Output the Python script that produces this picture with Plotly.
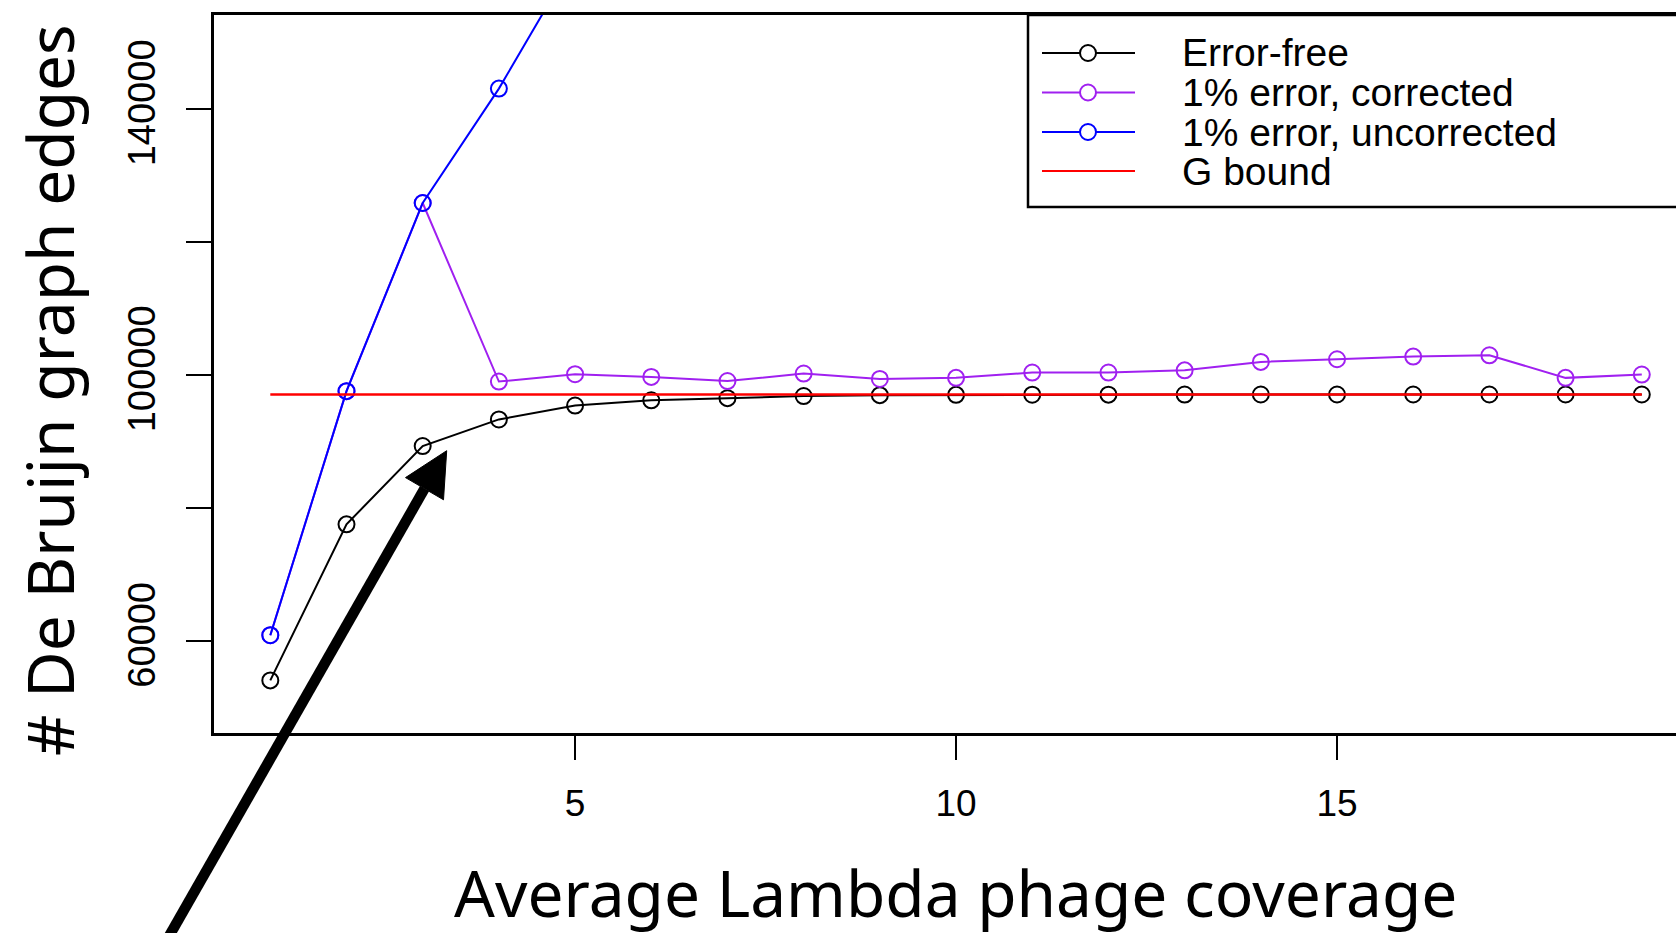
import plotly.graph_objects as go

# ---------------- data ----------------
coverage = list(range(1, 20))
error_free = [54000, 77470, 89250, 93250, 95340, 96130, 96450, 96770, 96900,
              96950, 96970, 96980, 96990, 97000, 97000, 97000, 97000, 97000, 97000]
corrected = [60800, 97500, 125800, 98950, 100050, 99650, 99020, 100150, 99340,
             99500, 100300, 100300, 100630, 101900, 102300, 102700, 102900, 99500, 100000]
uncorrected_x = [1, 2, 3, 4, 5]
uncorrected = [60800, 97500, 125800, 143000, 162600]
g_bound_x = [1, 19]
g_bound = [97004, 97004]

legend_labels = ["Error-free", "1% error, corrected", "1% error, uncorrected", "G bound"]
colors = ["black", "#A020F0", "#0000FF", "#FF0000"]
legend_has_marker = [True, True, True, False]

x_ticks = [5, 10, 15]
y_ticks = [60000, 80000, 100000, 120000, 140000]
y_ticktext = ["60000", "", "100000", "", "140000"]

# ---------------- geometry helpers (pixel -> paper) ----------------
FIG_W, FIG_H = 1676, 933
L, T, W, H = 214, 15, 1462, 718
B = FIG_H - T - H


def px(x):
    return (x - L) / W


def py(y):
    return (T + H - y) / H


fig = go.Figure()

mk = dict(symbol="circle-open", size=16, line=dict(width=2))
fig.add_trace(go.Scatter(x=coverage, y=error_free, mode="lines+markers",
                         line=dict(color=colors[0], width=2),
                         marker=dict(color=colors[0], **mk), showlegend=False))
fig.add_trace(go.Scatter(x=coverage, y=corrected, mode="lines+markers",
                         line=dict(color=colors[1], width=2),
                         marker=dict(color=colors[1], **mk), showlegend=False))
fig.add_trace(go.Scatter(x=uncorrected_x, y=uncorrected, mode="lines+markers",
                         line=dict(color=colors[2], width=2),
                         marker=dict(color=colors[2], **mk), showlegend=False))
fig.add_trace(go.Scatter(x=g_bound_x, y=g_bound, mode="lines",
                         line=dict(color=colors[3], width=2.4), showlegend=False))

shapes = []
annotations = []

# ---------- manual legend ----------
shapes.append(dict(type="rect", xref="paper", yref="paper",
                   x0=px(1028), x1=px(1720), y0=py(207), y1=py(T),
                   line=dict(color="black", width=2.5), fillcolor="rgba(0,0,0,0)"))
rows = [53, 92.5, 132, 171]
for lab, col, hasm, ry in zip(legend_labels, colors, legend_has_marker, rows):
    shapes.append(dict(type="line", xref="paper", yref="paper",
                       x0=px(1042), x1=px(1135), y0=py(ry), y1=py(ry),
                       line=dict(color=col, width=2)))
    if hasm:
        shapes.append(dict(type="circle", xref="paper", yref="paper",
                           x0=px(1080), x1=px(1096), y0=py(ry + 8), y1=py(ry - 8),
                           line=dict(color=col, width=2), fillcolor="white"))
    annotations.append(dict(text=lab, xref="paper", yref="paper",
                            x=px(1180), y=py(ry), xanchor="left", yanchor="middle",
                            showarrow=False,
                            font=dict(family="Liberation Sans, Arial", size=39, color="black")))

# ---------- big arrow ----------
shapes.append(dict(type="line", xref="paper", yref="paper",
                   x0=px(164), y0=py(945), x1=px(424.5), y1=py(488.7),
                   line=dict(color="black", width=10.5)))
tri = [(446.7, 450.7), (405.5, 477.6), (443.5, 499.8)]
path = "M {} {} L {} {} L {} {} Z".format(*[v for p in tri for v in (px(p[0]), py(p[1]))])
shapes.append(dict(type="path", xref="paper", yref="paper", path=path,
                   fillcolor="black", line=dict(color="black", width=1)))

# ---------- axis titles ----------
annotations.append(dict(text="Average Lambda phage coverage", xref="paper", yref="paper",
                        x=px(955), y=py(892), xanchor="center", yanchor="middle",
                        showarrow=False, font=dict(family="Noto Sans", size=64, color="black")))
annotations.append(dict(text="# De Bruijn graph edges", xref="paper", yref="paper",
                        x=px(49), y=py(390), xanchor="center", yanchor="middle",
                        textangle=-90, showarrow=False,
                        font=dict(family="Noto Sans", size=64, color="black")))

fig.update_layout(
    width=FIG_W, height=FIG_H,
    margin=dict(l=L, r=0, t=T, b=B, pad=0),
    paper_bgcolor="white", plot_bgcolor="white",
    shapes=shapes, annotations=annotations,
    xaxis=dict(range=[0.261, 19.449], tickvals=x_ticks, ticks="outside", ticklen=24,
               tickwidth=2, tickcolor="black", showline=True, linewidth=2.5,
               linecolor="black", mirror=True, showgrid=False, zeroline=False,
               tickfont=dict(family="Liberation Sans, Arial", size=37, color="black"),
               ticklabelstandoff=12),
    yaxis=dict(range=[46093, 154072], tickvals=y_ticks, ticktext=y_ticktext,
               tickangle=-90, ticks="outside", ticklen=25, tickwidth=2,
               tickcolor="black", showline=True, linewidth=2.5, linecolor="black",
               showgrid=False, zeroline=False,
               tickfont=dict(family="Liberation Sans, Arial", size=38, color="black"),
               ticklabelstandoff=16),
)

fig.write_html("out.html",
               config={"displayModeBar": False},
               post_script="document.body.style.margin='0';"
                           "document.body.style.padding='0';"
                           "document.documentElement.style.overflow='hidden';")
